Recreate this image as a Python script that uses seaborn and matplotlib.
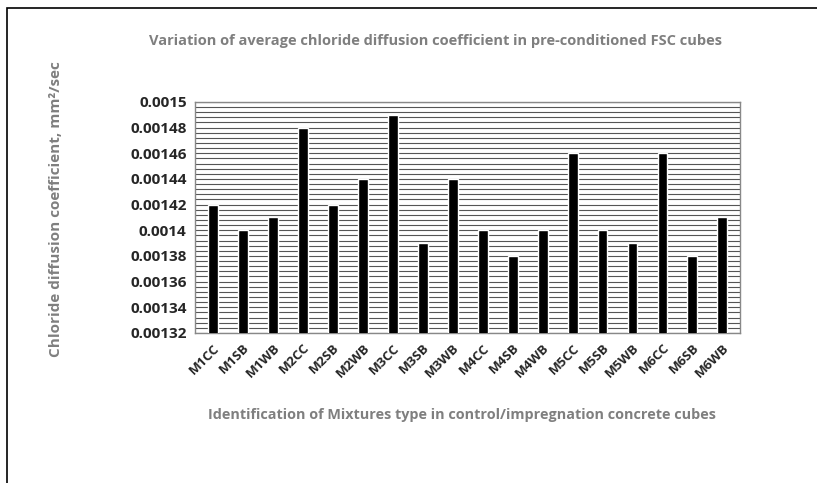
import numpy as np
import pandas as pd
import seaborn as sns
import matplotlib.pyplot as plt
from matplotlib.ticker import MultipleLocator
from matplotlib.patches import Rectangle

sns.set_style("white")
plt.rcParams['font.family'] = ['Open Sans', 'DejaVu Sans']

# Dane
mixtures = ["M1CC", "M1SB", "M1WB", "M2CC", "M2SB", "M2WB", "M3CC", "M3SB", "M3WB",
            "M4CC", "M4SB", "M4WB", "M5CC", "M5SB", "M5WB", "M6CC", "M6SB", "M6WB"]
coefficients = [0.00142, 0.00140, 0.00141, 0.00148, 0.00142, 0.00144, 0.00149, 0.00139, 0.00144,
                0.00140, 0.00138, 0.00140, 0.00146, 0.00140, 0.00139, 0.00146, 0.00138, 0.00141]
y_ticks = [0.00132, 0.00134, 0.00136, 0.00138, 0.0014, 0.00142, 0.00144, 0.00146, 0.00148, 0.0015]
y_tick_labels = ["0.00132", "0.00134", "0.00136", "0.00138", "0.0014",
                 "0.00142", "0.00144", "0.00146", "0.00148", "0.0015"]

df = pd.DataFrame({"mix": mixtures, "coef": coefficients})

fig = plt.figure(figsize=(8.17, 4.83), dpi=100)
ax = fig.add_axes([0.2387, 0.3106, 0.6675, 0.4784])

sns.barplot(data=df, x="mix", y="coef", color="black", width=0.33,
            saturation=1, ax=ax, zorder=3)

ax.set_ylim(0.00132, 0.0015)
ax.set_yticks(y_ticks)
ax.set_yticklabels(y_tick_labels, fontsize=11, fontweight="bold")
ax.yaxis.set_minor_locator(MultipleLocator(0.000004))
ax.grid(True, which="both", axis="y", color="#555555", linewidth=0.8, zorder=0)
ax.set_axisbelow(True)
ax.tick_params(axis="both", which="both", length=0, pad=6)

plt.setp(ax.get_xticklabels(), rotation=45, ha="right", rotation_mode="anchor",
         fontsize=9.5, fontweight="bold")
ax.set_xlim(-0.6, len(mixtures) - 0.4)

for s in ax.spines.values():
    s.set_color("#888888")
    s.set_linewidth(1)

ax.set_xlabel("")
ax.set_ylabel("")
fig.text(0.533, 0.915, "Variation of average chloride diffusion coefficient in pre-conditioned FSC cubes",
         ha="center", va="center", fontsize=10.5, fontweight="bold", color="#7f7f7f")
fig.text(0.566, 0.141, "Identification of Mixtures type in control/impregnation concrete cubes",
         ha="center", va="center", fontsize=10.4, fontweight="bold", color="#7f7f7f")
fig.text(0.068, 0.566, "Chloride diffusion coefficient, mm²/sec", rotation=90,
         ha="center", va="center", fontsize=11, fontweight="bold", color="#7f7f7f")

fig.patches.append(Rectangle((0.008, -0.01), 1.2, 0.993, transform=fig.transFigure,
                             fill=False, edgecolor="black", linewidth=1.2))

fig.savefig("out.png", dpi=100)
